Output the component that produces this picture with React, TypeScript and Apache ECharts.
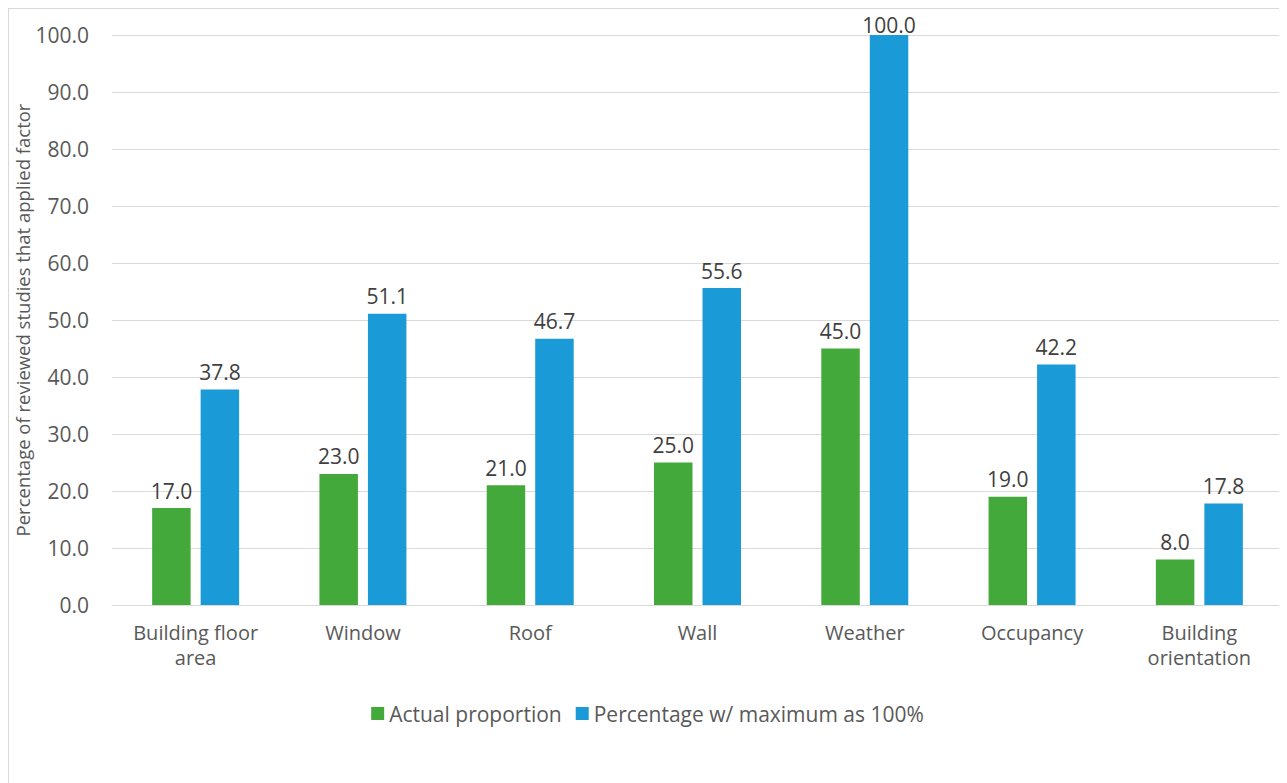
import React, { useEffect, useRef } from "react";
import * as echarts from "echarts";

const categories = [
  "Building floor\narea",
  "Window",
  "Roof",
  "Wall",
  "Weather",
  "Occupancy",
  "Building\norientation",
];
const actualProportion = [17.0, 23.0, 21.0, 25.0, 45.0, 19.0, 8.0];
const percentOfMax = [37.8, 51.1, 46.7, 55.6, 100.0, 42.2, 17.8];
const seriesNames = ["Actual proportion", "Percentage w/ maximum as 100%"];
const yAxisTitle = "Percentage of reviewed studies that applied factor";

const FONT = "'Open Sans', 'Noto Sans', sans-serif";
const Y_MAX = 100;

export default function App() {
  const ref = useRef<HTMLDivElement>(null);

  useEffect(() => {
    if (!ref.current) return;
    const chart = echarts.init(ref.current, undefined, { renderer: "svg" });
    const valueLabel = {
      show: true,
      position: "top" as const,
      distance: 7,
      color: "#404040",
      fontSize: 21,
      fontFamily: FONT,
      formatter: (p: any) => Number(p.value).toFixed(1),
    };
    // labels of bars that reach the top of the axis sit tight against the bar
    const withTopLabels = (values: number[]) =>
      values.map((v) =>
        v >= Y_MAX ? { value: v, label: { distance: 0 } } : v
      );
    chart.setOption({
      animation: false,
      backgroundColor: "#ffffff",
      textStyle: { fontFamily: FONT },
      grid: {
        left: 103,
        right: 3,
        top: 26,
        bottom: 178,
        containLabel: false,
        outerBoundsMode: "none",
      },
      legend: {
        bottom: 54,
        left: "center",
        itemWidth: 13,
        itemHeight: 13,
        itemGap: 14,
        icon: "rect",
        textStyle: { color: "#595959", fontSize: 21, fontFamily: FONT },
        data: seriesNames,
      },
      xAxis: {
        type: "category",
        data: categories,
        axisTick: { show: false },
        axisLine: { show: true, lineStyle: { color: "#d9d9d9", width: 1 } },
        axisLabel: {
          color: "#595959",
          fontSize: 20,
          fontFamily: FONT,
          margin: 15,
          lineHeight: 25,
          interval: 0,
        },
      },
      yAxis: {
        type: "value",
        min: 0,
        max: Y_MAX,
        interval: 10,
        name: yAxisTitle,
        nameLocation: "middle",
        nameGap: 80,
        nameMoveOverlap: false,
        nameTextStyle: { color: "#595959", fontSize: 18.5, fontFamily: FONT },
        axisLine: { show: false },
        axisTick: { show: false },
        splitLine: { lineStyle: { color: "#d9d9d9", width: 1 } },
        axisLabel: {
          color: "#595959",
          fontSize: 21,
          fontFamily: FONT,
          margin: 23,
          formatter: (v: number) => v.toFixed(1),
        },
      },
      series: [
        {
          name: seriesNames[0],
          type: "bar",
          data: withTopLabels(actualProportion),
          barGap: "26%",
          barCategoryGap: "48%",
          itemStyle: { color: "#43a93a" },
          label: valueLabel,
        },
        {
          name: seriesNames[1],
          type: "bar",
          data: withTopLabels(percentOfMax),
          itemStyle: { color: "#1a9ad6" },
          label: valueLabel,
        },
      ],
    });
    return () => chart.dispose();
  }, []);

  return (
    <div
      style={{
        width: 1277,
        height: 774,
        border: "1px solid #d9d9d9",
        borderBottom: "none",
        overflow: "hidden",
      }}
    >
      <div ref={ref} style={{ width: 1277, height: 774 }} />
    </div>
  );
}
